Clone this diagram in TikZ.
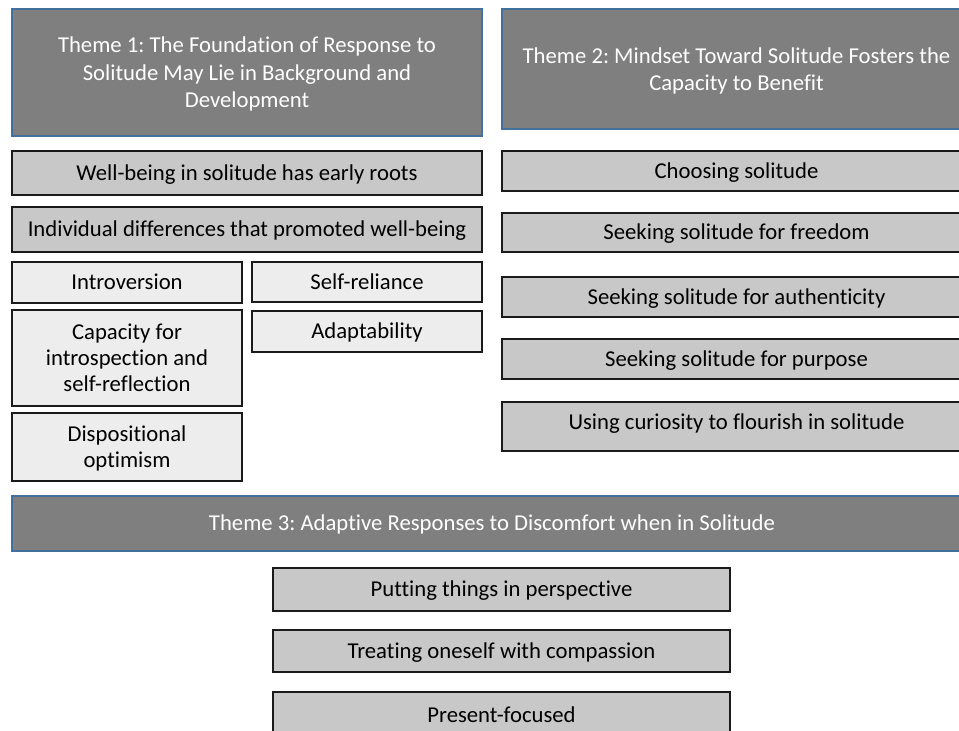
\documentclass[tikz,border=0pt]{standalone}
\usepackage{fontspec}
\setmainfont[Ligatures=NoCommon]{Carlito}
\definecolor{themefill}{HTML}{7F7F7F}
\definecolor{themeline}{HTML}{41719C}
\definecolor{subfill}{HTML}{C8C8C8}
\definecolor{leaffill}{HTML}{EDEDED}
\definecolor{boxline}{HTML}{1A1A1A}
\tikzset{
  every node/.style={inner sep=0pt, outer sep=0pt, align=center,
    text depth=0pt, font=\fontsize{22.7}{27.5}\selectfont\frenchspacing},
  theme/.style={draw=themeline, fill=themefill, line width=1.2pt, text=white},
  oneline/.style={text height=14.6pt},
  sub/.style={draw=boxline, fill=subfill, line width=1.3pt, text=black, oneline},
  leaf/.style={draw=boxline, fill=leaffill, line width=1.3pt, text=black, oneline},
  leafml/.style={draw=boxline, fill=leaffill, line width=1.3pt, text=black,
    font=\fontsize{22.7}{26}\selectfont\frenchspacing},
}
\begin{document}
\begin{tikzpicture}[x=1pt,y=-1pt]
\useasboundingbox (0,0) rectangle (959,731);
\clip (0,0) rectangle (959,731);
\fill[white] (0,0) rectangle (959,731);
% Theme 1
\node[theme, minimum width=470pt, minimum height=127pt, text depth=-3pt] (t1) at (247,72.5)
  {Theme 1: The Foundation of Response to\\Solitude May Lie in Background and\\Development};
\node[sub, minimum width=470pt, minimum height=44pt] (wb) at (247,173)
  {Well-being in solitude has early roots};
\node[sub, minimum width=470pt, minimum height=45pt] (ind) at (247,229.5)
  {Individual differences that promoted well-being};
\node[leaf, minimum width=230pt, minimum height=41pt] (intro) at (127,282.5) {Introversion};
\node[leaf, minimum width=230pt, minimum height=40pt] (selfr) at (367,282) {Self-reliance};
\node[leafml, minimum width=230pt, minimum height=96pt] (cap) at (127,358)
  {Capacity for\\introspection and\\self-reflection};
\node[leaf, minimum width=230pt, minimum height=41pt] (adapt) at (367,331.5) {Adaptability};
\node[leafml, minimum width=230pt, minimum height=68pt] (disp) at (127,447)
  {Dispositional\\optimism};
% Theme 2
\node[theme, minimum width=469pt, minimum height=120pt, text depth=-3pt] (t2) at (736.5,69)
  {Theme 2: Mindset Toward Solitude Fosters the\\Capacity to Benefit};
\node[sub, minimum width=469pt, minimum height=40pt] (ch) at (736.5,171) {Choosing solitude};
\node[sub, minimum width=469pt, minimum height=39pt] (fr) at (736.5,232.5) {Seeking solitude for freedom};
\node[sub, minimum width=469pt, minimum height=40pt] (au) at (736.5,297) {Seeking solitude for authenticity};
\node[sub, minimum width=469pt, minimum height=40pt] (pu) at (736.5,359) {Seeking solitude for purpose};
\node[sub, minimum width=469pt, minimum height=49pt, text depth=9.6pt] (cu) at (736.5,426.5) {Using curiosity to flourish in solitude};
% Theme 3
\node[theme, oneline, minimum width=960pt, minimum height=55pt] (t3) at (492,523.5)
  {Theme 3: Adaptive Responses to Discomfort when in Solitude};
\node[sub, minimum width=457pt, minimum height=43pt] (pe) at (501.5,589.5) {Putting things in perspective};
\node[sub, minimum width=457pt, minimum height=42pt] (tr) at (501.5,651) {Treating oneself with compassion};
\node[sub, minimum width=457pt, minimum height=46pt] (pf) at (501.5,715) {Present-focused};
\end{tikzpicture}
\end{document}
